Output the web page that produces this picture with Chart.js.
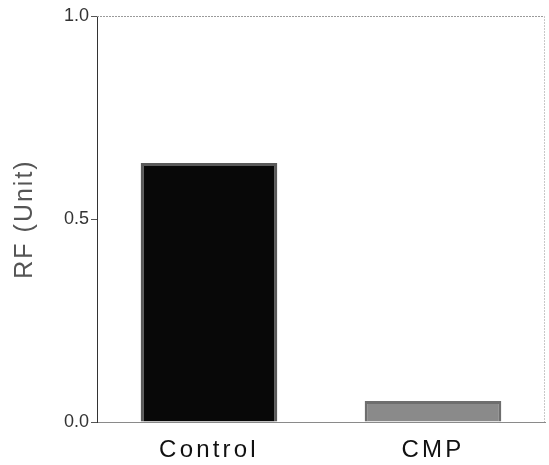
<!DOCTYPE html>
<html>
<head>
<meta charset="utf-8">
<script src="https://cdn.jsdelivr.net/npm/chart.js@4/dist/chart.umd.min.js"></script>
<style>
html,body{margin:0;padding:0;background:#fff;}
#wrap{width:549px;height:465px;position:relative;}
</style>
</head>
<body>
<div id="wrap"><canvas id="c" width="549" height="465"></canvas></div>
<script>
const categories = ["Control", "CMP"];
const rfValues = [0.638, 0.052];
const yTicks = [0, 0.5, 1.0];
const barColors = ["#080808", "#8a8a8a"];
const barEdges = ["#5a5a5a", "#6e6e6e"];

function withSpacing(fn, spacing) {
  return function(...args) {
    const ctx = this.ctx;
    const prev = ctx.letterSpacing;
    ctx.letterSpacing = spacing;
    const r = fn.apply(this, args);
    ctx.letterSpacing = prev;
    return r;
  };
}

const spacingPlugin = {
  id: 'spacing',
  beforeDraw(chart) {
    const x = chart.scales.x, y = chart.scales.y;
    if (!x._spaced) { x.drawLabels = withSpacing(x.drawLabels, '3.2px'); x._spaced = true; }
    if (!y._spaced) { y.drawTitle = withSpacing(y.drawTitle, '2px'); y._spaced = true; }
  }
};

const framePlugin = {
  id: 'frame',
  afterDraw(chart) {
    const {ctx, chartArea: a} = chart;
    ctx.save();
    ctx.strokeStyle = '#9a9a9a';
    ctx.lineWidth = 1;
    ctx.setLineDash([2, 1]);
    ctx.beginPath();
    ctx.moveTo(a.left, a.top + 0.5);
    ctx.lineTo(a.right, a.top + 0.5);
    ctx.stroke();
    ctx.strokeStyle = '#c8c8c8';
    ctx.beginPath();
    ctx.moveTo(a.right - 0.5, a.top);
    ctx.lineTo(a.right - 0.5, a.bottom);
    ctx.stroke();
    ctx.restore();
  }
};

new Chart(document.getElementById('c'), {
  type: 'bar',
  data: {
    labels: categories,
    datasets: [{
      data: rfValues,
      backgroundColor: barColors,
      borderColor: barEdges,
      borderWidth: 3,
      categoryPercentage: 1.0,
      barPercentage: 0.61
    }]
  },
  options: {
    responsive: false,
    animation: false,
    devicePixelRatio: 1,
    layout: {padding: {top: 16, right: 4, left: 0, bottom: 0}},
    plugins: {legend: {display: false}, tooltip: {enabled: false}},
    scales: {
      x: {
        grid: {display: false, drawTicks: false},
        border: {display: true, color: '#8a8a8a', dash: [2, 1], width: 1},
        ticks: {color: '#111', font: {family: 'Liberation Sans', size: 24}, padding: 14},
        afterFit(s) { s.height = 43; }
      },
      y: {
        min: 0, max: 1.0,
        afterBuildTicks(s) { s.ticks = yTicks.map(v => ({value: v})); },
        grid: {drawOnChartArea: false, drawTicks: true, tickLength: 6, color: '#555'},
        border: {display: true, color: '#333', width: 1},
        ticks: {
          color: '#333', font: {family: 'Liberation Sans', size: 18}, padding: 2,
          callback: v => v.toFixed(1)
        },
        title: {
          display: true, text: 'RF (Unit)', color: '#555',
          font: {family: 'Liberation Sans', size: 25}, padding: {top: 10, bottom: 10}
        },
        afterFit(s) { s.width = 97; }
      }
    }
  },
  plugins: [spacingPlugin, framePlugin]
});
</script>
</body>
</html>
